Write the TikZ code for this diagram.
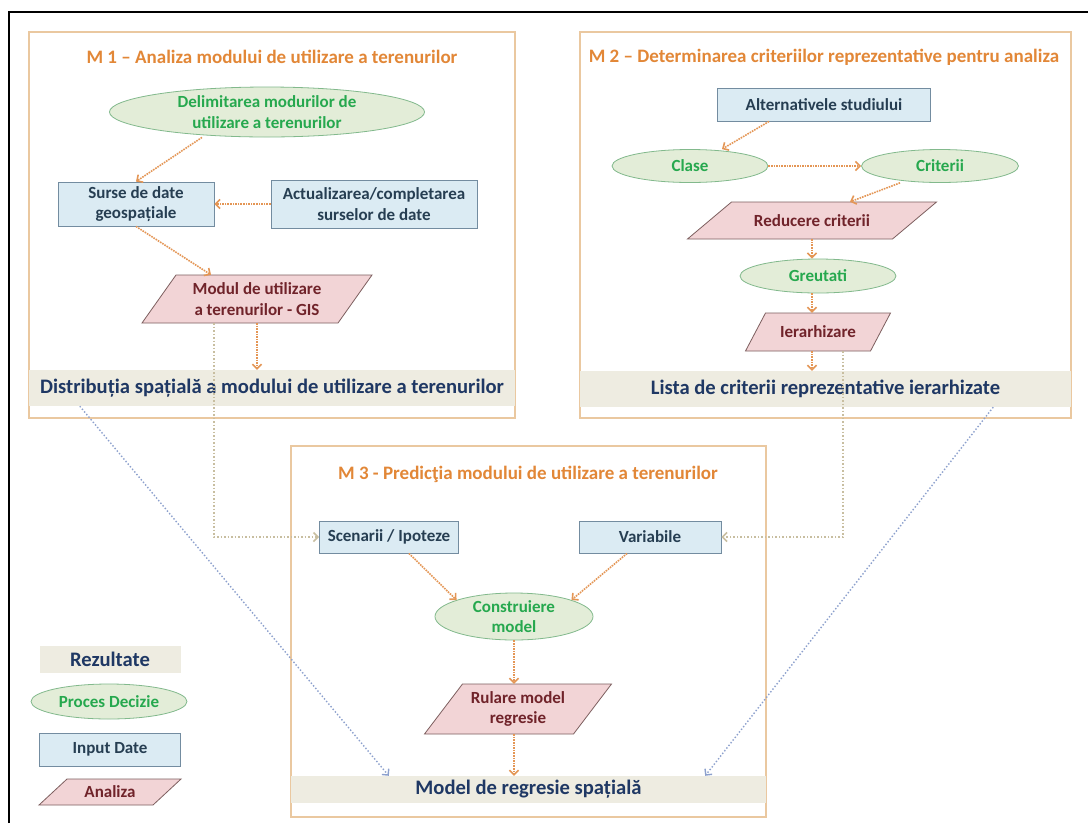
\documentclass[tikz,border=0pt]{standalone}
\usepackage{fontspec}
\setmainfont{Carlito}
\usetikzlibrary{arrows.meta,shapes.geometric,calc}

\definecolor{frameC}{RGB}{234,200,160}
\definecolor{titleC}{RGB}{226,135,55}
\definecolor{ellFill}{RGB}{227,237,216}
\definecolor{ellDraw}{RGB}{130,185,140}
\definecolor{ellText}{RGB}{38,168,78}
\definecolor{recFill}{RGB}{219,235,243}
\definecolor{recDraw}{RGB}{115,140,160}
\definecolor{recText}{RGB}{38,62,82}
\definecolor{parFill}{RGB}{242,212,214}
\definecolor{parDraw}{RGB}{125,95,95}
\definecolor{parText}{RGB}{112,35,42}
\definecolor{bandFill}{RGB}{238,236,225}
\definecolor{bandText}{RGB}{31,56,100}
\definecolor{flowC}{RGB}{228,150,85}
\definecolor{linkC}{RGB}{200,190,160}
\definecolor{blueC}{RGB}{140,160,205}

\newcommand\myTitleFont{\bfseries\fontsize{19}{22}\selectfont}
\newcommand\myNodeFont{\bfseries\fontsize{17}{20.5}\selectfont}
\newcommand\myBandFont{\bfseries\fontsize{20.6}{23}\selectfont}

% parallelogram: name, cx, cy, width, height, slant, text
\newcommand\parabox[7]{%
  \filldraw[parashape] ({#2-#4/2+#6/2},{#3-#5/2}) -- ({#2+#4/2+#6/2},{#3-#5/2})
    -- ({#2+#4/2-#6/2},{#3+#5/2}) -- ({#2-#4/2-#6/2},{#3+#5/2}) -- cycle;
  \node[paratext, minimum width=#4pt, minimum height=#5pt] (#1) at (#2,#3) {#7};}

\tikzset{
  frame/.style={draw=frameC, line width=1.5pt},
  modtitle/.style={text=titleC, font=\myTitleFont, inner sep=0pt},
  proc/.style={ellipse, draw=ellDraw, fill=ellFill, line width=0.8pt, text=ellText,
    font=\myNodeFont, align=center, inner sep=-4pt},
  input/.style={rectangle, draw=recDraw, fill=recFill, line width=0.9pt, text=recText,
    font=\myNodeFont, align=center, inner sep=0pt},
  parashape/.style={draw=parDraw, fill=parFill, line width=0.8pt},
  paratext/.style={rectangle, text=parText, font=\myNodeFont, align=center, inner sep=0pt},
  band/.style={rectangle, fill=bandFill, text=bandText, font=\myBandFont, inner sep=0pt},
  flow/.style={draw=flowC, line width=1.6pt, densely dotted,
    -{Straight Barb[length=4.5pt,width=9pt]}},
  link/.style={draw=linkC, line width=1.5pt, dotted,
    -{Straight Barb[length=4.5pt,width=9pt]}},
  bluelink/.style={draw=blueC, line width=1.4pt, dotted,
    -{Straight Barb[length=4.5pt,width=9pt]}},
}

\begin{document}
\begin{tikzpicture}[x=1pt,y=-1pt]
\useasboundingbox (0,0) rectangle (1088,823);
\fill[white] (0,0) rectangle (1088,823);
\draw[line width=2pt] (9,823) -- (9,12) -- (1088,12);

% ---------- module frames ----------
\draw[frame] (29,32) rectangle (515,418);
\draw[frame] (580,32) rectangle (1071,418);
\draw[frame] (291,446) rectangle (766,817);

\node[modtitle] (t1) at (272,57) {M 1 – Analiza modului de utilizare a terenurilor};
\node[modtitle] (t2) at (824,57) {M 2 – Determinarea criteriilor reprezentative pentru analiza};
\node[modtitle] (t3) at (528,474) {M 3 - Predicţia modului de utilizare a terenurilor};

% ---------- result bands ----------
\node[band, minimum width=486pt, minimum height=36pt] (band1) at (272,388)
  {Distribuția spațială a modului de utilizare a terenurilor};
\node[band, minimum width=491pt, minimum height=36pt] (band2) at (825.5,389)
  {Lista de criterii reprezentative ierarhizate};
\node[band, minimum width=475pt, minimum height=27pt] (band3) at (528.5,789.5)
  {Model de regresie spațială};

% ---------- M1 ----------
\node[proc, minimum width=315pt, minimum height=50pt] (delim) at (267,112)
  {Delimitarea modurilor de\\utilizare a terenurilor};
\node[input, minimum width=156pt, minimum height=44pt] (surse) at (136,204)
  {Surse de date\\geospațiale};
\node[input, minimum width=206pt, minimum height=48pt] (actual) at (374,204)
  {Actualizarea/completarea\\surselor de date};
\parabox{modul}{257}{299}{196}{48}{34}{Modul de utilizare\\a terenurilor - GIS}

% ---------- M2 ----------
\node[input, minimum width=213pt, minimum height=33pt] (alt) at (824,104.5)
  {Alternativele studiului};
\node[proc, minimum width=156pt, minimum height=33pt] (clase) at (690,166) {Clase};
\node[proc, minimum width=157pt, minimum height=33pt] (crit) at (940,166) {Criterii};
\parabox{red}{812}{220.5}{205}{37}{44}{Reducere criterii}
\node[proc, minimum width=156pt, minimum height=34pt] (greut) at (818,276) {Greutati};
\parabox{iera}{818}{332}{125}{38}{20}{Ierarhizare}

% ---------- M3 ----------
\node[input, minimum width=139pt, minimum height=32pt] (scen) at (389,537)
  {Scenarii / Ipoteze};
\node[input, minimum width=142pt, minimum height=32pt] (vari) at (650,537) {Variabile};
\node[proc, minimum width=158pt, minimum height=47pt] (constr) at (514,616.5)
  {Construiere\\model};
\parabox{rul}{518}{709}{149}{50}{38}{Rulare model\\regresie}

% ---------- legend ----------
\node[band, minimum width=141pt, minimum height=27pt] (lgres) at (110,659.5) {Rezultate};
\node[proc, minimum width=156pt, minimum height=35pt] (lgproc) at (109,701.5)
  {Proces Decizie};
\node[input, minimum width=141pt, minimum height=33pt] (lgin) at (110,749.5)
  {Input Date};
\parabox{lgan}{110}{792}{114}{26}{28}{Analiza}

% ---------- connectors M1 ----------
\draw[flow] ([xshift=-65pt]delim.south) -- (surse.north);
\draw[flow] (actual.west) -- (surse.east);
\draw[flow] (surse.south) -- ([xshift=-46pt]modul.north);
\draw[flow] (modul.south) -- (modul.south |- band1.north);

% ---------- connectors M2 ----------
\draw[flow] ([xshift=-55pt]alt.south) -- ([xshift=32pt]clase.north);
\draw[flow] (clase.east) -- (crit.west);
\draw[flow] ([xshift=-40pt]crit.south) -- ([xshift=38pt]red.north);
\draw[flow] (red.south) -- (red.south |- greut.north);
\draw[flow] (greut.south -| red.south) -- (red.south |- iera.north);
\draw[flow] (iera.south -| red.south) -- (red.south |- band2.north);

% ---------- connectors M3 ----------
\draw[flow] ([xshift=20pt]scen.south) -- (constr.164);
\draw[flow] ([xshift=-23pt]vari.south) -- (constr.16);
\draw[flow] (constr.south) -- (constr.south |- rul.north);
\draw[flow] (rul.south -| constr.south) -- (constr.south |- band3.north);

% ---------- links between modules ----------
\draw[link] ([xshift=-43pt]modul.south) |- (scen.west);
\draw[link] ([xshift=25pt]iera.south) |- (vari.east);
\draw[bluelink] ([xshift=51pt]band1.south west) -- ([xshift=98pt]band3.north west);
\draw[bluelink] ([xshift=-78pt]band2.south east) -- ([xshift=-61pt]band3.north east);
\end{tikzpicture}
\end{document}
